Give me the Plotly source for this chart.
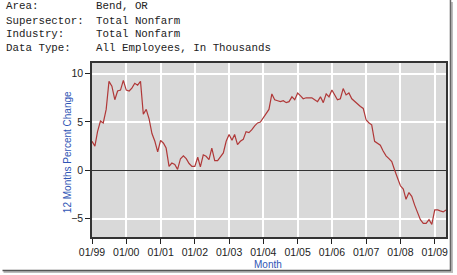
import plotly.graph_objects as go
import pandas as pd

# ---- data ----
months = pd.date_range("1999-01-01", "2009-05-01", freq="MS")
pct_change = [
    3.0, 2.5, 4.0, 5.1, 4.9, 6.3, 9.2, 8.7, 7.3, 8.2, 8.3, 9.3,      # 1999
    8.3, 8.2, 8.5, 9.0, 8.8, 9.2, 5.8, 6.3, 5.3, 3.8, 3.0, 1.9,      # 2000
    3.1, 2.8, 2.3, 0.4, 0.75, 0.6, 0.1, 1.2, 1.5, 1.2, 0.7, 0.4,     # 2001
    0.4, 1.35, 0.35, 1.6, 1.45, 1.1, 2.3, 1.0, 1.0, 1.35, 1.8, 3.0,  # 2002
    3.7, 3.1, 3.7, 2.65, 3.0, 3.2, 4.0, 3.9, 4.2, 4.6, 4.9, 5.0,     # 2003
    5.4, 5.8, 6.3, 7.9, 7.3, 7.2, 7.1, 7.2, 7.0, 7.1, 7.6, 7.3,      # 2004
    8.0, 7.7, 7.4, 7.5, 7.5, 7.5, 7.3, 7.1, 7.6, 7.0, 7.9, 7.6,      # 2005
    8.3, 7.7, 7.3, 7.4, 8.45, 7.8, 8.0, 7.4, 7.1, 6.8, 6.6, 6.4,     # 2006
    5.2, 4.9, 4.7, 3.0, 2.8, 2.6, 2.0, 1.5, 1.2, 0.9, 0.0, -0.8,     # 2007
    -1.6, -1.95, -3.0, -2.3, -2.7, -3.6, -4.3, -5.1, -5.5, -5.5, -5.1, -5.6,  # 2008
    -4.1, -4.1, -4.2, -4.3, -4.1,                                     # 2009
]
y_ticks = [-5, 0, 5, 10]
header_labels = ["Area:", "Supersector:", "Industry:", "Data Type:"]
header_values = ["Bend, OR", "Total Nonfarm", "Total Nonfarm", "All Employees, In Thousands"]
x_title = "Month"
y_title = "12 Months Percent Change"

# ---- layout geometry (pixels) ----
W, H = 457, 275
L, R, T, B = 92, 9, 63, 38
PW, PH = W - L - R, H - T - B


def px(x):
    return (x - L) / PW


def py(y):
    return 1 - (y - T) / PH


fig = go.Figure()
fig.add_trace(go.Scatter(
    x=months, y=pct_change, mode="lines",
    line=dict(color="#b03838", width=1.2),
    showlegend=False, hoverinfo="skip",
))

axis_font = dict(family="Liberation Sans, Arial, sans-serif", size=10.5, color="#222222")
blue = "#2f55b5"

fig.update_layout(
    width=W, height=H,
    margin=dict(l=L, r=R, t=T, b=B),
    paper_bgcolor="white",
    plot_bgcolor="#d9d9d9",
    xaxis=dict(
        type="date",
        range=["1999-01-01", "2009-05-01"],
        tick0="1999-01-01", dtick="M12", tickformat="%m/%y",
        showgrid=True, gridcolor="white", gridwidth=1.5,
        ticks="outside", ticklen=5, tickcolor="#222",
        showline=True, linecolor="#333", linewidth=1.5, mirror=True,
        tickfont=axis_font, zeroline=False,
    ),
    yaxis=dict(
        range=[-6.9, 11.1],
        tickvals=y_ticks,
        showgrid=True, gridcolor="white", gridwidth=1.5,
        ticks="outside", ticklen=5, tickcolor="#222",
        showline=True, linecolor="#333", linewidth=1.5, mirror=True,
        zeroline=True, zerolinecolor="#333", zerolinewidth=1.2,
        tickfont=axis_font,
    ),
)

annotations = []
header_y = [6, 20.5, 34, 47.5]
for lab, val, yy in zip(header_labels, header_values, header_y):
    for text, xx in ((lab, 3), (val, 94)):
        annotations.append(dict(
            text=text, x=px(xx), y=py(yy), xref="paper", yref="paper",
            xanchor="left", yanchor="middle", showarrow=False,
            font=dict(family="Liberation Mono, Courier New, monospace", size=10.8, color="#222"),
        ))
annotations.append(dict(
    text=x_title, x=px(269), y=py(264), xref="paper", yref="paper",
    xanchor="center", yanchor="middle", showarrow=False,
    font=dict(family="Liberation Sans, Arial, sans-serif", size=10, color=blue),
))
annotations.append(dict(
    text=y_title, x=px(67), y=py(152), xref="paper", yref="paper",
    xanchor="center", yanchor="middle", showarrow=False, textangle=-90,
    font=dict(family="Liberation Sans, Arial, sans-serif", size=10, color=blue),
))
fig.update_layout(annotations=annotations)

# outer frame with drop shadow
shapes = [
    dict(type="line", xref="paper", yref="paper", x0=px(454), x1=px(454), y0=py(2), y1=py(272),
         line=dict(color="#bbbbbb", width=2)),
    dict(type="line", xref="paper", yref="paper", x0=px(3), x1=px(455), y0=py(272), y1=py(272),
         line=dict(color="#bbbbbb", width=2)),
    dict(type="line", xref="paper", yref="paper", x0=px(452.5), x1=px(452.5), y0=py(0), y1=py(270.5),
         line=dict(color="#666666", width=1.5)),
    dict(type="line", xref="paper", yref="paper", x0=px(2), x1=px(453), y0=py(270.5), y1=py(270.5),
         line=dict(color="#555555", width=1.5)),
]
fig.update_layout(shapes=shapes)

fig.write_html("out.html")
